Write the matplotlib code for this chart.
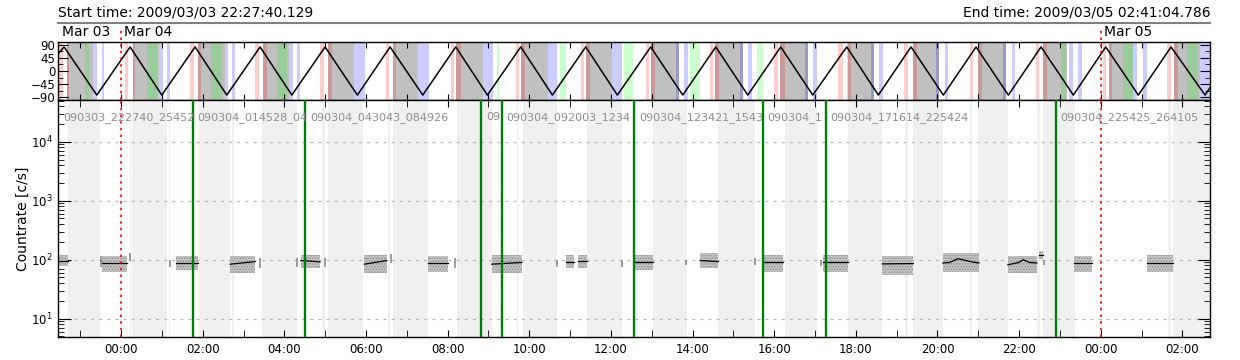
import matplotlib
matplotlib.use("Agg")
import matplotlib.pyplot as plt
from matplotlib.lines import Line2D
from matplotlib.ticker import MultipleLocator, FuncFormatter
from matplotlib.transforms import Bbox, TransformedBbox

plt.rcParams['font.family'] = ['DejaVu Sans']
plt.rcParams['hatch.linewidth'] = 0.8


def hours(hms, day=0):
    # hours since 2009/03/04 00:00
    h, m, s = hms.split(":")
    return 24 * day + int(h) + int(m) / 60 + float(s) / 3600


t_start = hours("22:27:40.129", -1)
t_end = hours("02:41:04.786", 1)
day_marks = [0.0, 24.0]
day_names = ["Mar 04", "Mar 05"]

# orbit curve (peaks / troughs, deg)
wave_t = [t_start, -1.396, -0.595, 0.221, 0.997, 1.813, 2.589, 3.405, 4.182, 4.997,
          5.789, 6.590, 7.391, 8.199, 8.974, 9.792, 10.566, 11.384, 12.158, 12.976,
          13.760, 14.569, 15.353, 16.161, 16.945, 17.778, 18.552, 19.353, 20.144,
          20.946, 21.737, 22.538, 23.329, 24.123, 24.922, 25.723, 26.556, t_end]
wave_v = [60, 83, -83, 83, -83, 83, -83, 83, -83, 83,
          -83, 83, -83, 83, -83, 83, -83, 83, -83, 83,
          -83, 83, -83, 83, -83, 83, -83, 83, -83,
          83, -83, 83, -83, 83, -83, 83, -83, -56]

top_grey = [(-1.335, -0.693), (0.287, 0.938), (1.894, 2.548), (3.486, 4.123),
            (5.078, 5.708), (6.656, 7.283), (8.207, 8.876), (9.792, 10.453),
            (11.391, 12.021), (12.976, 13.677), (14.552, 15.245), (16.144, 16.837),
            (17.817, 18.447), (19.410, 20.047), (21.002, 21.680), (22.594, 23.168),
            (24.196, 24.799), (25.796, 26.433)]
top_pink = [(-1.536, -1.433), (-1.335, -1.274), (0.098, 0.179), (0.287, 0.350),
            (1.690, 1.788), (1.894, 1.960), (3.283, 3.388), (3.486, 3.569),
            (4.875, 4.973), (5.078, 5.162), (6.485, 6.573), (6.656, 6.737),
            (8.077, 8.158), (8.207, 8.322), (9.677, 9.758), (9.792, 9.897),
            (11.269, 11.350), (11.391, 11.489), (12.861, 12.942), (12.976, 13.082),
            (14.429, 14.510), (14.552, 14.657), (15.997, 16.103), (16.144, 16.267),
            (17.572, 17.680), (17.778, 17.876), (19.182, 19.272), (19.395, 19.493),
            (20.799, 20.880), (20.987, 21.085), (22.416, 22.496), (22.580, 22.678),
            (24.050, 24.130), (24.196, 24.277), (25.617, 25.715), (25.796, 25.901)]
top_blue = [(-0.693, -0.595), (-0.473, -0.416), (0.938, 1.036), (1.120, 1.200),
            (2.548, 2.629), (2.727, 2.800), (4.123, 4.221), (4.304, 4.385),
            (5.708, 5.977), (7.283, 7.545), (8.876, 9.106), (10.453, 10.674),
            (12.021, 12.266), (13.596, 13.677), (13.792, 13.890), (15.164, 15.245),
            (15.368, 15.451), (16.757, 16.837), (16.960, 17.043), (18.366, 18.447),
            (18.577, 18.660), (19.966, 20.047), (20.186, 20.267), (21.600, 21.680),
            (21.820, 21.901), (23.231, 23.329), (23.452, 23.535), (24.799, 24.897),
            (25.044, 25.142), (26.433, 26.685)]
top_green = [(-0.882, -0.777), (0.644, 0.875), (2.197, 2.482), (3.814, 4.074),
             (9.204, 9.268), (10.755, 10.894), (12.323, 12.551), (13.939, 14.184),
             (15.588, 15.735), (23.021, 23.151), (24.540, 24.785), (26.107, 26.392)]

bot_grey = [(-1.291, -0.514), (0.208, 0.245), (0.277, 1.120), (1.164, 1.200),
            (1.911, 2.670), (2.712, 2.768), (3.454, 4.304), (4.924, 4.985),
            (5.064, 5.936), (6.529, 6.590), (6.671, 7.528), (8.239, 9.081),
            (9.694, 9.733), (9.841, 10.674), (11.423, 12.266), (13.025, 13.858),
            (14.633, 15.532), (16.266, 17.043), (17.817, 18.636), (19.206, 19.272),
            (19.410, 20.145), (20.799, 20.855), (21.002, 21.737), (22.433, 22.514),
            (22.594, 23.371), (25.656, 25.722), (25.779, 26.685)]

# count-rate clusters: time span, spread and median track
clu_t0 = [-1.536, -0.478, 1.340, 2.670, 4.402, 5.960, 7.528, 9.081, 10.902, 11.188,
          12.567, 14.184, 15.720, 17.190, 18.650, 20.130, 21.722, 22.496, 23.354, 25.128]
clu_t1 = [-1.306, 0.140, 1.879, 3.283, 4.875, 6.509, 8.000, 9.816, 11.098, 11.423,
          13.040, 14.633, 16.225, 17.817, 19.410, 21.019, 22.433, 22.594, 23.795, 25.779]
clu_lo = [77, 63, 66, 59, 72, 59, 63, 59, 72, 72, 66, 72, 63, 63, 56, 63, 59, 104, 63, 63]
clu_hi = [122, 114, 114, 114, 122, 122, 114, 122, 122, 122, 122, 130, 122, 122, 114,
          130, 114, 138, 114, 122]
med_t = [[-1.536, -1.306], [-0.478, 0.140], [1.340, 1.879], [2.670, 3.283],
         [4.402, 4.875], [5.960, 6.509], [7.528, 8.000], [9.081, 9.816],
         [10.902, 11.098], [11.188, 11.423], [12.567, 13.040], [14.184, 14.633],
         [15.720, 16.225], [17.190, 17.817], [18.650, 19.410],
         [20.130, 20.300, 20.500, 20.850, 21.019],
         [21.722, 22.000, 22.100, 22.250, 22.433], [22.496, 22.594],
         [23.354, 23.795], [25.128, 25.779]]
med_v = [[97, 97], [88, 88], [87, 87], [84, 93], [97, 92], [84, 97], [88, 88],
         [84, 90], [90, 90], [94, 94], [90, 90], [97, 93], [90, 90], [90, 90],
         [85, 86], [88, 90, 104, 92, 88], [82, 90, 100, 90, 88], [122, 122],
         [88, 88], [88, 88]]
spike_t = [-0.497, 0.22, 1.20, 3.40, 4.304, 5.00, 6.60, 8.19, 10.674, 12.266,
           13.841, 15.532, 17.148, 22.62]
spike_lo = [75, 95, 75, 72, 75, 75, 88, 72, 75, 75, 80, 80, 78, 80]
spike_hi = [115, 130, 100, 105, 105, 105, 125, 105, 100, 100, 100, 105, 100, 100]

seg_bounds = [t_start, hours("01:45:28"), hours("04:30:43"), hours("08:49:26"),
              hours("09:20:03"), hours("12:34:21"), hours("15:43:00"),
              hours("17:16:14"), hours("22:54:24"), t_end]
# file labels as far as they are visible before the next boundary
seg_names = ["090303_222740_25452", "090304_014528_04", "090304_043043_084926",
             "09", "090304_092003_1234", "090304_123421_1543",
             "090304_1", "090304_171614_225424", "090304_225425_264105"]

fig = plt.figure(figsize=(12.4, 3.6), dpi=100)
L = 58.3 / 1240
W = (1210.3 - 58.3) / 1240
ax_top = fig.add_axes([L, 1 - 100 / 360, W, 58 / 360])
ax = fig.add_axes([L, 1 - 337 / 360, W, 237 / 360])

# header
fig.text(L, 1 - 12 / 360, "Start time: 2009/03/03 22:27:40.129", ha="left", va="center", fontsize=10)
fig.text(L + W, 1 - 12 / 360, "End time: 2009/03/05 02:41:04.786", ha="right", va="center", fontsize=10)
fig.add_artist(Line2D([L, L + W], [1 - 22.7 / 360] * 2, color="#808080", lw=1.5))

# ---- top panel
for a, b in top_grey:
    ax_top.axvspan(a, b, color="#c0c0c0", lw=0, zorder=0)
for a, b in top_pink:
    ax_top.axvspan(a, b, color="red", alpha=0.2, lw=0, zorder=1)
for a, b in top_blue:
    ax_top.axvspan(a, b, color="blue", alpha=0.2, lw=0, zorder=1)
for a, b in top_green:
    ax_top.axvspan(a, b, color="lime", alpha=0.2, lw=0, zorder=1)
ax_top.plot(wave_t, wave_v, color="k", lw=1.1, zorder=3)
for d in day_marks:
    ax_top.axvline(d, ymin=0, ymax=1.26, clip_on=False, color="red", ls=(0, (1.5, 2.5)), lw=1.2, zorder=4)
xt = ax_top.get_xaxis_transform()
ax_top.text(t_start + 0.1, 1.17, "Mar 03", transform=xt, ha="left", va="center", fontsize=10)
for d, n in zip(day_marks, day_names):
    ax_top.text(d + 0.08, 1.17, n, transform=xt, ha="left", va="center", fontsize=10)
ax_top.set_xlim(t_start, t_end)
ax_top.set_ylim(-100, 100)
ax_top.set_yticks([-90, -45, 0, 45, 90])
ax_top.yaxis.set_minor_locator(MultipleLocator(22.5))
ax_top.xaxis.set_major_locator(MultipleLocator(1))
ax_top.tick_params(which="both", direction="in", top=True, right=True, labelbottom=False, labelsize=8.5)
ax_top.tick_params(axis="x", length=4)
ax_top.tick_params(axis="y", which="major", length=7, pad=2)
ax_top.tick_params(axis="y", which="minor", length=3.5)

# ---- bottom panel
for a, b in bot_grey:
    ax.axvspan(a, b, color="#f0f0f0", lw=0, zorder=0)
for t0, t1, lo, hi in zip(clu_t0, clu_t1, clu_lo, clu_hi):
    ax.fill_between([t0, t1], [lo, lo], [hi, hi], facecolor="#c6c6c6", edgecolor="#8e8e8e",
                    hatch="......", lw=0, zorder=2)
for mt, mv in zip(med_t, med_v):
    ax.plot(mt, mv, color="k", lw=0.9, zorder=2.5)
ax.vlines(spike_t, spike_lo, spike_hi, color="#8a8a8a", lw=1.2, zorder=2)

for t in seg_bounds[1:-1]:
    ax.axvline(t, color="#008000", lw=1.7, zorder=3)
for d in day_marks:
    ax.axvline(d, color="red", ls=(0, (1.5, 2.5)), lw=1.2, zorder=3)

bt = ax.get_xaxis_transform()
for i, name in enumerate(seg_names):
    x0, x1 = seg_bounds[i], seg_bounds[i + 1]
    txt = ax.text(x0 + 0.11, 0.928, name, transform=bt, color="#8c8c8c", fontsize=8,
                  ha="left", va="center", zorder=4)
    txt.set_clip_box(TransformedBbox(Bbox([[x0, 0], [x1, 1]]), bt))
    txt.set_clip_on(True)

ax.set_yscale("log")
ax.set_xlim(t_start, t_end)
ax.set_ylim(4.9, 5.1e4)
ax.yaxis.grid(True, which="major", color="#b8b8b8", ls=(0, (2.5, 4)), lw=0.9)
ax.xaxis.set_major_locator(MultipleLocator(2))
ax.xaxis.set_minor_locator(MultipleLocator(1))
ax.xaxis.set_major_formatter(FuncFormatter(lambda h, p: "%02d:00" % (int(round(h)) % 24)))
ax.tick_params(axis="x", which="both", direction="in", length=5, top=True, labelsize=8.5, pad=4)
ax.tick_params(axis="y", which="major", direction="in", length=9, right=True, labelsize=8.5, pad=4)
ax.tick_params(axis="y", which="minor", direction="in", length=4.5, right=True)
ax.set_ylabel("Countrate [c/s]", fontsize=10, labelpad=1)

for a_ in (ax_top, ax):
    for s in a_.spines.values():
        s.set_linewidth(1.0)

fig.savefig("out.png", dpi=100)
